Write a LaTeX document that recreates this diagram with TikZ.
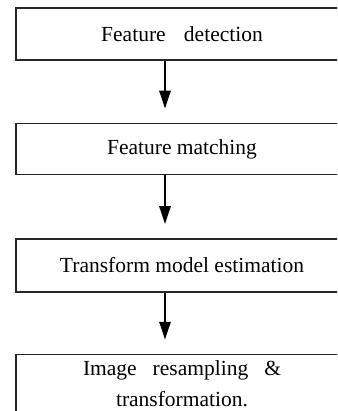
\documentclass[tikz,border=0pt]{standalone}
\usepackage{fontspec}
\setmainfont{Liberation Serif}
\usetikzlibrary{arrows.meta,positioning}

\begin{document}
\begin{tikzpicture}[
  stage/.style={draw=black!85,line width=1.5pt,minimum width=332pt,minimum height=52pt,
    inner sep=0pt,font=\fontsize{21.5}{30}\selectfont},
  flow/.style={line width=2.8pt,-{Triangle[width=11pt,length=18pt]},shorten >=14pt},
  node distance=62pt
]
\useasboundingbox (0,0) rectangle (337pt,-411pt);
\clip (0,0) rectangle (337pt,-411pt);
% ---- the four stages ----
\node[stage] (detect) at (182pt,-34pt) {Feature\hspace{0.6em} detection};
\node[stage,minimum height=51pt,below=of detect] (match) {Feature matching};
\node[stage,minimum height=53pt,below=63pt of match] (model) {Transform model estimation};
\node[stage,minimum height=58pt,below=61pt of model,align=center] (resample)
  {\makebox[198pt][s]{Image resampling \&}\\[1pt]transformation.};
% ---- arrows between stages ----
\draw[flow] ([xshift=-17pt]detect.south) -- ([xshift=-17pt]match.north);
\draw[flow] ([xshift=-17pt]match.south) -- ([xshift=-17pt]model.north);
\draw[flow] ([xshift=-17pt]model.south) -- ([xshift=-17pt]resample.north);
\end{tikzpicture}
\end{document}
